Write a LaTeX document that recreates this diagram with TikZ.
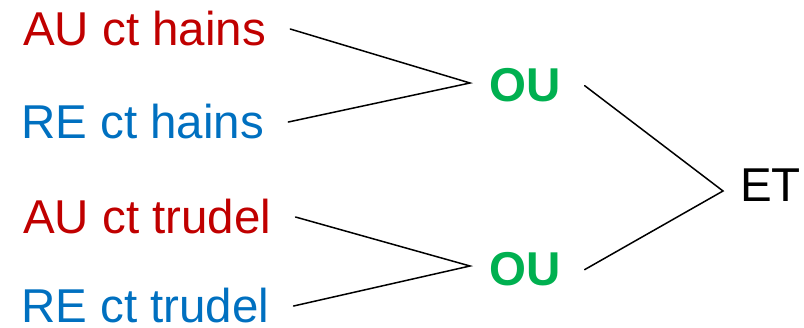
\documentclass[tikz,border=0pt]{standalone}
\usepackage{fontspec}
\setmainfont{Liberation Sans}
\usepackage{tikz}
\usetikzlibrary{positioning,calc}
\usepackage{xcolor}
\definecolor{aured}{HTML}{C00000}
\definecolor{reblue}{HTML}{0070C0}
\definecolor{ougreen}{HTML}{00B050}

\begin{document}
\begin{tikzpicture}[x=1pt,y=-1pt,
    lbl/.style={font=\fontsize{47.5}{56}\selectfont, inner sep=0, anchor=base west},
    oubox/.style={lbl, font=\fontsize{47.5}{56}\selectfont\bfseries, text=ougreen},
    wire/.style={line width=1.5pt, line cap=round}]
                    \useasboundingbox (0,0) rectangle (804,328);
                    % inputs
                    \node[lbl, text=aured]  (auh) at (23,46)  {AU ct hains};
                    \node[lbl, text=reblue] (reh) at (21,139) {RE ct hains};
                    \node[lbl, text=aured]  (aut) at (23,234) {AU ct trudel};
                    \node[lbl, text=reblue] (ret) at (21,323) {RE ct trudel};
                    % gates
                    \node[oubox] (ou1) at (489,102) {OU};
                    \node[oubox] (ou2) at (489,286) {OU};
                    \node[lbl] (et) at (740,202) {ET};
                    \coordinate (j1) at (470,83);
                    \coordinate (j2) at (470,266);
                    \coordinate (j3) at (723,191);
                    \draw[wire] ([xshift=24]auh.east) -- (j1) -- ([xshift=24]reh.east);
                    \draw[wire] ([xshift=24]aut.east) -- (j2) -- ([xshift=24]ret.east);
                    \draw[wire] ([xshift=24]ou1.east) -- (j3) -- ([xshift=24]ou2.east);
                \end{tikzpicture}
\end{document}
